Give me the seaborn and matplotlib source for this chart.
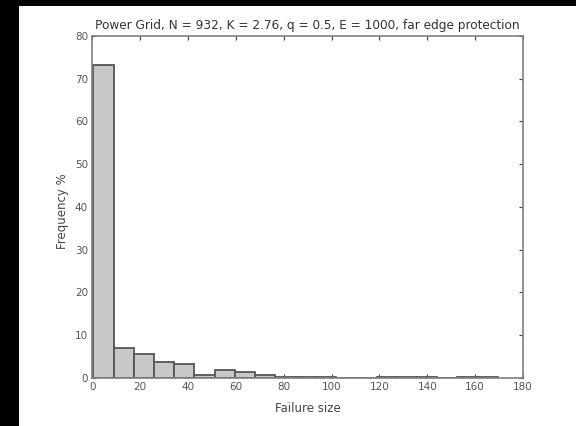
import numpy as np
import pandas as pd
import seaborn as sns
import matplotlib.pyplot as plt
from matplotlib.patches import Rectangle

# data
bin_centers = [4.7, 13.2, 21.6, 30.1, 38.5, 47.0, 55.4, 63.9, 72.3, 80.8,
               89.2, 97.7, 106.1, 114.6, 123.0, 131.5, 139.9, 148.4, 156.8, 165.3]
frequency = [73.2, 6.9, 5.5, 3.7, 3.2, 0.7, 1.8, 1.3, 0.6, 0.25,
             0.2, 0.2, 0.0, 0.0, 0.15, 0.15, 0.15, 0.0, 0.2, 0.2]
bin_width = 8.45
x_ticks = [0, 20, 40, 60, 80, 100, 120, 140, 160, 180]
y_ticks = [0, 10, 20, 30, 40, 50, 60, 70, 80]
title = 'Power Grid, N = 932, K = 2.76, q = 0.5, E = 1000, far edge protection'

df = pd.DataFrame({'size': bin_centers, 'freq': frequency})
lo = bin_centers[0] - bin_width / 2
hi = bin_centers[-1] + bin_width / 2

# styling
sns.set_theme(style='white')
plt.rcParams['font.family'] = ['DejaVu Sans']

fig = plt.figure(figsize=(5.76, 4.26), dpi=100, facecolor='black')
fig.patches.append(Rectangle((19 / 576, 0), 1 - 19 / 576, 1 - 6 / 426,
                             transform=fig.transFigure, facecolor='white',
                             edgecolor='none', zorder=-10))
ax = fig.add_axes([0.16, 0.1127, 0.748, 0.8028])

sns.histplot(data=df, x='size', weights='freq', binwidth=bin_width,
             binrange=(lo, hi), ax=ax, color='#c8c8c8', alpha=1,
             edgecolor='#555555', linewidth=1.3)

ax.set_xlim(0, 180)
ax.set_ylim(0, 80)
ax.set_xticks(x_ticks)
ax.set_yticks(y_ticks)
ax.tick_params(axis='both', which='both', direction='in', length=3, width=0.8,
               color='#444444', labelsize=7.5, labelcolor='#555555',
               top=True, right=True, bottom=True, left=True, pad=3)
for s in ax.spines.values():
    s.set_color('#808080')
    s.set_linewidth(1.2)

ax.set_title(title, fontsize=8.7, color='#333333', pad=5)
ax.set_xlabel('Failure size', fontsize=8.5, color='#444444', labelpad=7)
ax.set_ylabel('Frequency %', fontsize=8.5, color='#444444')
ax.yaxis.set_label_coords(-0.054, 0.488)

fig.savefig('out.png', dpi=100, facecolor=fig.get_facecolor())
